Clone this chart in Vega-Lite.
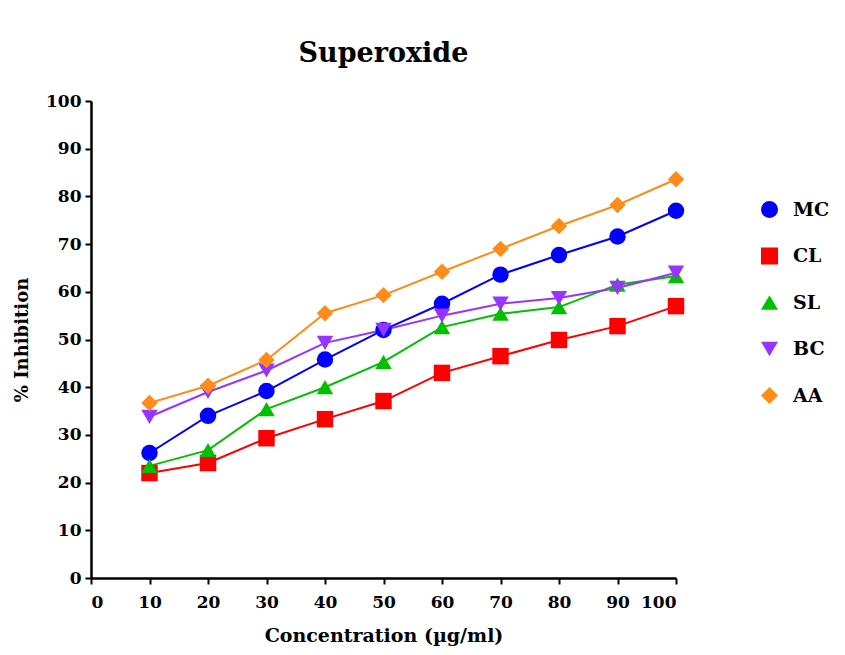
{
  "$schema": "https://vega.github.io/schema/vega-lite/v6.json",
  "autosize": "none",
  "width": 585,
  "height": 477,
  "padding": {"left": 91, "top": 101, "right": 169, "bottom": 77},
  "background": "white",
  "title": {"text": "Superoxide", "font": "DejaVu Serif", "fontSize": 27, "fontWeight": "bold", "color": "black", "anchor": "middle", "offset": 24},
  "config": {"view": {"stroke": null}},
  "data": {"values": [
    {"c": 10, "s": "MC", "v": 26.2}, {"c": 20, "s": "MC", "v": 34.0}, {"c": 30, "s": "MC", "v": 39.2}, {"c": 40, "s": "MC", "v": 45.8}, {"c": 50, "s": "MC", "v": 52.0}, {"c": 60, "s": "MC", "v": 57.5}, {"c": 70, "s": "MC", "v": 63.6}, {"c": 80, "s": "MC", "v": 67.7}, {"c": 90, "s": "MC", "v": 71.6}, {"c": 100, "s": "MC", "v": 77.0},
    {"c": 10, "s": "CL", "v": 22.0}, {"c": 20, "s": "CL", "v": 24.1}, {"c": 30, "s": "CL", "v": 29.3}, {"c": 40, "s": "CL", "v": 33.3}, {"c": 50, "s": "CL", "v": 37.1}, {"c": 60, "s": "CL", "v": 43.0}, {"c": 70, "s": "CL", "v": 46.5}, {"c": 80, "s": "CL", "v": 49.9}, {"c": 90, "s": "CL", "v": 52.8}, {"c": 100, "s": "CL", "v": 57.0},
    {"c": 10, "s": "SL", "v": 23.5}, {"c": 20, "s": "SL", "v": 26.8}, {"c": 30, "s": "SL", "v": 35.4}, {"c": 40, "s": "SL", "v": 40.0}, {"c": 50, "s": "SL", "v": 45.3}, {"c": 60, "s": "SL", "v": 52.6}, {"c": 70, "s": "SL", "v": 55.4}, {"c": 80, "s": "SL", "v": 56.8}, {"c": 90, "s": "SL", "v": 61.5}, {"c": 100, "s": "SL", "v": 63.3},
    {"c": 10, "s": "BC", "v": 33.8}, {"c": 20, "s": "BC", "v": 39.0}, {"c": 30, "s": "BC", "v": 43.5}, {"c": 40, "s": "BC", "v": 49.3}, {"c": 50, "s": "BC", "v": 52.0}, {"c": 60, "s": "BC", "v": 55.0}, {"c": 70, "s": "BC", "v": 57.5}, {"c": 80, "s": "BC", "v": 58.7}, {"c": 90, "s": "BC", "v": 60.8}, {"c": 100, "s": "BC", "v": 64.0},
    {"c": 10, "s": "AA", "v": 36.7}, {"c": 20, "s": "AA", "v": 40.3}, {"c": 30, "s": "AA", "v": 45.7}, {"c": 40, "s": "AA", "v": 55.5}, {"c": 50, "s": "AA", "v": 59.3}, {"c": 60, "s": "AA", "v": 64.2}, {"c": 70, "s": "AA", "v": 69.0}, {"c": 80, "s": "AA", "v": 73.8}, {"c": 90, "s": "AA", "v": 78.2}, {"c": 100, "s": "AA", "v": 83.6}
  ]},
  "encoding": {
    "x": {"field": "c", "type": "quantitative", "title": "Concentration (µg/ml)",
      "scale": {"domain": [0, 100], "nice": false},
      "axis": {"values": [0,10,20,30,40,50,60,70,80,90,100], "grid": false, "domainColor": "black", "domainWidth": 2.5, "tickColor": "black", "tickWidth": 2, "tickSize": 6,
        "labelFont": "DejaVu Serif", "labelFontSize": 17, "labelFontWeight": "bold", "labelColor": "black", "labelPadding": 10,
        "titleFont": "DejaVu Serif", "titleFontSize": 19, "titleFontWeight": "bold", "titleColor": "black", "titlePadding": 16}},
    "y": {"field": "v", "type": "quantitative", "title": "% Inhibition",
      "scale": {"domain": [0, 100], "nice": false},
      "axis": {"values": [0,10,20,30,40,50,60,70,80,90,100], "grid": false, "domainColor": "black", "domainWidth": 2.5, "tickColor": "black", "tickWidth": 2, "tickSize": 6,
        "labelFont": "DejaVu Serif", "labelFontSize": 17, "labelFontWeight": "bold", "labelColor": "black", "labelPadding": 4,
        "titleFont": "DejaVu Serif", "titleFontSize": 18, "titleFontWeight": "bold", "titleColor": "black", "titlePadding": 14}}
  },
  "layer": [
    {"mark": {"type": "line", "strokeWidth": 2},
     "encoding": {"stroke": {"field": "s", "type": "nominal", "legend": null, "scale": {"domain": ["AA", "BC", "CL", "MC", "SL"], "range": ["#ff8c1a", "#9933ff", "#ff0000", "#0000ff", "#00c000"]}}}},
    {"mark": {"type": "point", "filled": true, "opacity": 1},
     "encoding": {
       "color": {"field": "s", "type": "nominal", "title": null,
         "scale": {"domain": ["MC", "CL", "SL", "BC", "AA"], "range": ["#0000ff", "#ff0000", "#00c000", "#9933ff", "#ff8c1a"]},
         "legend": {"orient": "none", "legendX": 669, "legendY": 99, "padding": 0, "symbolSize": 290, "symbolStrokeWidth": 0, "labelOffset": 14, "rowPadding": 26.5,
           "labelFont": "DejaVu Serif", "labelFontSize": 19, "labelFontWeight": "bold", "labelColor": "black"}},
       "shape": {"field": "s", "type": "nominal", "title": null, "scale": {"domain": ["MC", "CL", "SL", "BC", "AA"], "range": ["circle", "square", "triangle-up", "triangle-down", "diamond"]},
         "legend": {"orient": "none", "legendX": 669, "legendY": 99, "padding": 0, "symbolSize": 290, "symbolStrokeWidth": 0, "labelOffset": 14, "rowPadding": 26.5,
           "labelFont": "DejaVu Serif", "labelFontSize": 19, "labelFontWeight": "bold", "labelColor": "black"}},
       "size": {"value": 270}
     }}
  ]
}
